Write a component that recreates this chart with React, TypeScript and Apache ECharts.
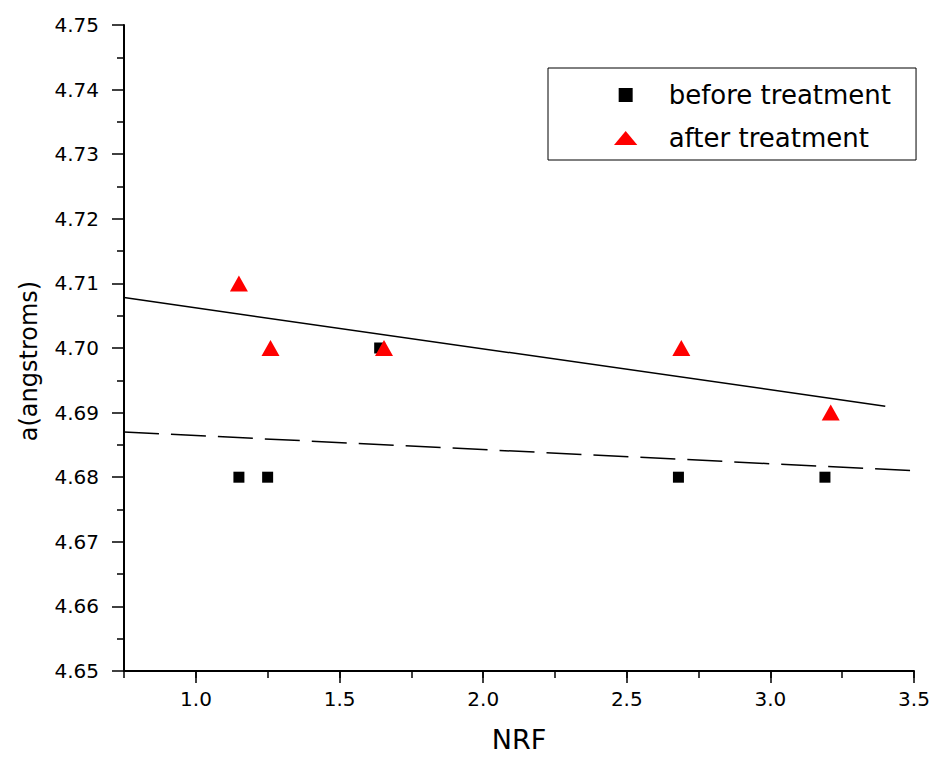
import React, { useEffect, useRef } from "react";
import * as echarts from "echarts";

const seriesNames = ["before treatment", "after treatment"];
const beforeX = [1.15, 1.25, 1.64, 2.68, 3.19];
const beforeY = [4.68, 4.68, 4.7, 4.68, 4.68];
const afterX = [1.15, 1.26, 1.655, 2.69, 3.21];
const afterY = [4.71, 4.7, 4.7, 4.7, 4.69];
const fitAfterX = [0.75, 3.4];
const fitAfterY = [4.7078, 4.691];
const fitBeforeX = [0.75, 3.5];
const fitBeforeY = [4.687, 4.681];
const xTitle = "NRF";
const yTitle = "a(angstroms)";

const zip = (xs: number[], ys: number[]) => xs.map((x, i) => [x, ys[i]]);

export default function App() {
  const ref = useRef<HTMLDivElement>(null);
  useEffect(() => {
    document.body.style.margin = "0";
    if (!ref.current) return;
    const chart = echarts.init(ref.current, undefined, { renderer: "svg" });
    const font = "DejaVu Sans";
    const black = "#000";
    chart.setOption({
      animation: false,
      backgroundColor: "#fff",
      textStyle: { fontFamily: font },
      grid: [
        { left: 124, right: 19, top: 25, bottom: 86, outerBoundsMode: "none", containLabel: false },
        { left: 196, right: 19, top: 25, bottom: 86, outerBoundsMode: "none", containLabel: false },
      ],
      legend: {
        data: [
          { name: seriesNames[0], icon: "path://M0,0H10V10H0Z" },
          { name: seriesNames[1], icon: "path://M10,0L20,12L0,12Z" },
        ],
        orient: "vertical",
        left: 548,
        top: 68,
        padding: [14, 25, 9, 66],
        itemWidth: 76,
        itemHeight: 14,
        itemGap: 17,
        symbolKeepAspect: true,
        borderColor: black,
        borderWidth: 1,
        borderRadius: 0,
        backgroundColor: "#fff",
        selectedMode: false,
        textStyle: { fontSize: 26, lineHeight: 26, color: black, fontFamily: font },
      },
      xAxis: [
        {
          gridIndex: 0,
          type: "value",
          min: 0.75,
          max: 3.5,
          interval: 0.25,
          axisLine: { show: true, lineStyle: { color: black, width: 2 } },
          axisTick: { show: true, length: 7, lineStyle: { color: black, width: 1.5 } },
          axisLabel: { show: false },
          splitLine: { show: false },
          name: xTitle,
          nameLocation: "middle",
          nameGap: 68,
          nameTextStyle: {
            fontSize: 27,
            lineHeight: 24,
            verticalAlign: "middle",
            color: black,
            fontFamily: font,
          },
        },
        {
          gridIndex: 1,
          type: "value",
          min: 1,
          max: 3.5,
          interval: 0.5,
          axisLine: { show: false },
          axisTick: { show: true, length: 12, lineStyle: { color: black, width: 1.5 } },
          axisLabel: {
            show: true,
            margin: 18,
            fontSize: 20,
            color: black,
            fontFamily: font,
            formatter: (v: number) => v.toFixed(1),
          },
          splitLine: { show: false },
        },
      ],
      yAxis: [
        {
          gridIndex: 0,
          type: "value",
          min: 4.65,
          max: 4.75,
          interval: 0.01,
          axisLine: { show: true, lineStyle: { color: black, width: 2 } },
          axisTick: { show: true, length: 12, lineStyle: { color: black, width: 1.5 } },
          minorTick: { show: true, splitNumber: 2, length: 7, lineStyle: { color: black, width: 1.5 } },
          axisLabel: {
            margin: 25,
            fontSize: 20,
            color: black,
            fontFamily: font,
            formatter: (v: number) => v.toFixed(2),
          },
          splitLine: { show: false },
          minorSplitLine: { show: false },
          name: yTitle,
          nameLocation: "middle",
          nameGap: 83,
          nameRotate: 90,
          nameTextStyle: { fontSize: 24, color: black, fontFamily: font, padding: [0, 26, 0, 0] },
        },
        { gridIndex: 1, type: "value", min: 4.65, max: 4.75, show: false },
      ],
      series: [
        {
          type: "line",
          data: zip(fitAfterX, fitAfterY),
          showSymbol: false,
          symbol: "none",
          silent: true,
          lineStyle: { color: black, width: 1.5, type: "solid" },
          xAxisIndex: 0,
          yAxisIndex: 0,
        },
        {
          type: "line",
          data: zip(fitBeforeX, fitBeforeY),
          showSymbol: false,
          symbol: "none",
          silent: true,
          lineStyle: { color: black, width: 1.5, type: [35, 12] },
          xAxisIndex: 0,
          yAxisIndex: 0,
        },
        {
          name: seriesNames[0],
          type: "scatter",
          data: zip(beforeX, beforeY),
          symbol: "rect",
          symbolSize: 11,
          itemStyle: { color: black, opacity: 1 },
          xAxisIndex: 0,
          yAxisIndex: 0,
        },
        {
          name: seriesNames[1],
          type: "scatter",
          data: zip(afterX, afterY),
          symbol: "triangle",
          symbolSize: [18, 16],
          itemStyle: { color: "#ff0000", opacity: 1 },
          xAxisIndex: 0,
          yAxisIndex: 0,
        },
      ],
    });
    return () => chart.dispose();
  }, []);
  return <div ref={ref} style={{ width: 933, height: 757 }} />;
}
